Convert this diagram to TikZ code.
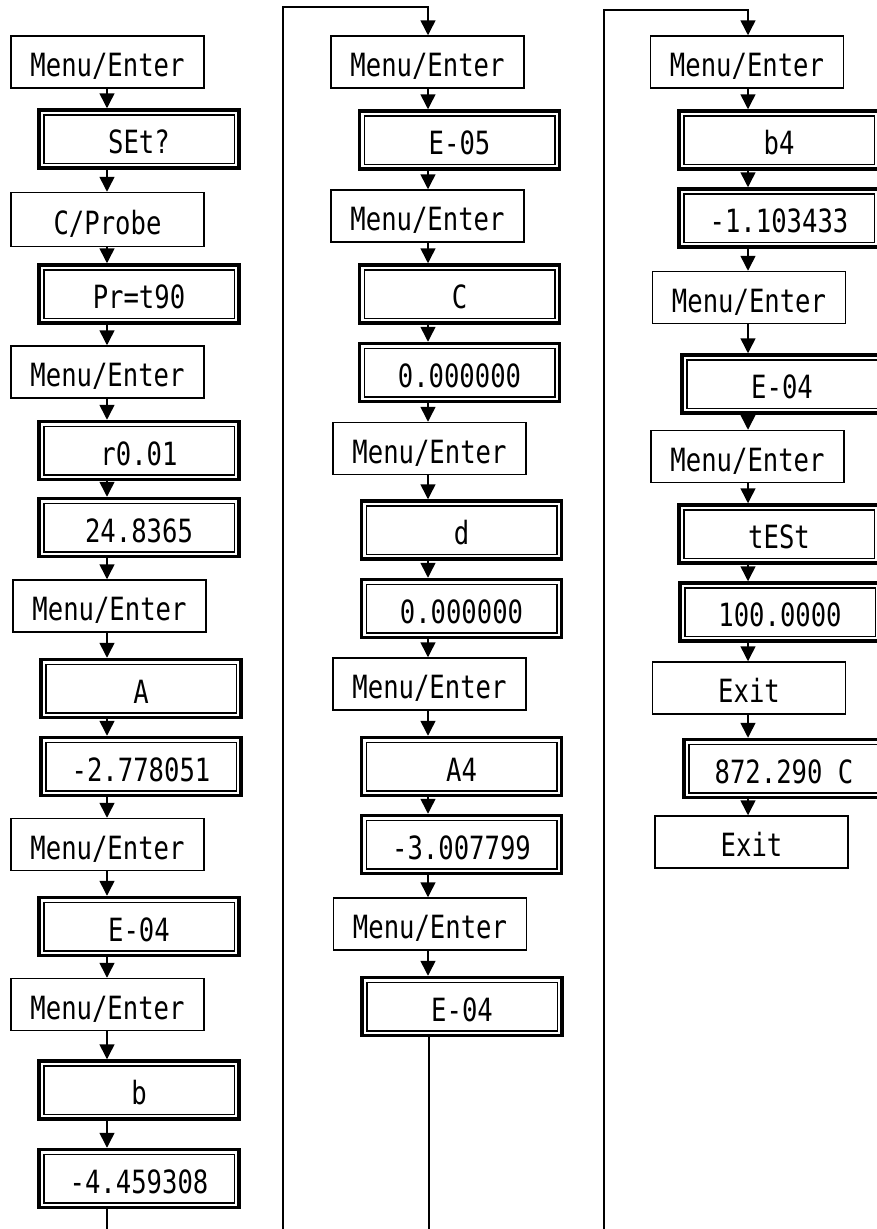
\documentclass[tikz,border=0pt]{standalone}
\usepackage{fontspec}
\usetikzlibrary{arrows.meta}
\newfontfamily\dispfont{DejaVu Sans Mono}[FakeStretch=0.8]

\begin{document}
\begin{tikzpicture}[
		x=1pt, y=-1pt,
		>={Triangle[length=15pt,width=15pt]},
		keybox/.style={
			draw,
			line width=1.5pt,
			minimum width=193pt,
			minimum height=52pt,
			inner sep=0pt,
			text height=29pt,
			text depth=0pt,
			font={\dispfont\fontsize{32}{38}\selectfont}
		},
		readout/.style={
			keybox,
			line width=3.5pt,
			minimum width=200pt,
			minimum height=58pt
		},
		flow/.style={->,line width=1.5pt},
		wire/.style={line width=1.5pt}
		]
		
		\useasboundingbox (0,0) rectangle (877,1229);
		
		%--------------------------------------------------
		% Column guides
		%--------------------------------------------------
		
		\coordinate (k1) at (107,0);
		\coordinate (k2) at (428,0);
		\coordinate (k3) at (748,0);
		
		%--------------------------------------------------
		% Column 1
		%--------------------------------------------------
		
		\node[keybox]  (c1a) at (107.5,62)   {Menu/Enter};
		\node[readout] (c1b) at (139,139)    {SEt?};
		\node[keybox,minimum height=54pt] (c1c) at (107.5,219.5) {C/Probe};
		\node[readout] (c1d) at (139,294)    {Pr=t90};
		\node[keybox]  (c1e) at (107.5,372)  {Menu/Enter};
		\node[readout] (c1f) at (139,450.5)  {r0.01};
		\node[readout] (c1g) at (139,527.5)  {24.8365};
		\node[keybox]  (c1h) at (109.5,606)  {Menu/Enter};
		\node[readout] (c1i) at (141,688.5)  {A};
		\node[readout] (c1j) at (141,766.5)  {-2.778051};
		\node[keybox]  (c1k) at (107.5,844.5) {Menu/Enter};
		\node[readout] (c1l) at (139,926.5)  {E-04};
		\node[keybox]  (c1m) at (107.5,1004.5) {Menu/Enter};
		\node[readout] (c1n) at (139,1090)   {b};
		\node[readout] (c1o) at (139,1178.5) {-4.459308};
		
		%--------------------------------------------------
		% Column 2
		%--------------------------------------------------
		
		\node[keybox]  (c2a) at (427.5,62)   {Menu/Enter};
		\node[readout] (c2b) at (459.5,140)  {E-05};
		\node[keybox]  (c2c) at (427.5,216)  {Menu/Enter};
		\node[readout] (c2d) at (459.5,294)  {C};
		\node[readout] (c2e) at (459.5,372.5) {0.000000};
		\node[keybox]  (c2f) at (429.5,448.5) {Menu/Enter};
		\node[readout] (c2g) at (461.5,530)  {d};
		\node[readout] (c2h) at (461.5,608.5) {0.000000};
		\node[keybox]  (c2i) at (429.5,684)  {Menu/Enter};
		\node[readout] (c2j) at (461.5,766.5) {A4};
		\node[readout] (c2k) at (461.5,844.5) {-3.007799};
		\node[keybox]  (c2l) at (430,924)    {Menu/Enter};
		\node[readout] (c2m) at (462,1006.5) {E-04};
		
		%--------------------------------------------------
		% Column 3
		%--------------------------------------------------
		
		\node[keybox]  (c3a) at (747,62)     {Menu/Enter};
		\node[readout] (c3b) at (779,140)    {b4};
		\node[readout] (c3c) at (779,218)    {-1.103433};
		\node[keybox]  (c3d) at (749,297.5)  {Menu/Enter};
		\node[readout] (c3e) at (782,384)    {E-04};
		\node[keybox]  (c3f) at (747.5,456.5) {Menu/Enter};
		\node[readout] (c3g) at (779,534)    {tESt};
		\node[readout] (c3h) at (780,612)    {100.0000};
		\node[keybox]  (c3i) at (749,688)    {Exit};
		\node[readout] (c3j) at (784,768.5)  {872.290 C};
		\node[keybox]  (c3k) at (751.5,842)  {Exit};
		
		%--------------------------------------------------
		% Inner frames of the readouts
		%--------------------------------------------------
		
		\foreach \n in {c1b,c1d,c1f,c1g,c1i,c1j,c1l,c1n,c1o,
			c2b,c2d,c2e,c2g,c2h,c2j,c2k,c2m,
			c3b,c3c,c3e,c3g,c3h,c3j}
		\draw[line width=1.5pt]
		([shift={(6.5pt,-6.5pt)}]\n.north west) rectangle
		([shift={(-6.5pt,6.5pt)}]\n.south east);
		
		%--------------------------------------------------
		% Forward flow
		%--------------------------------------------------
		
		\foreach \a/\b in {c1a/c1b,c1b/c1c,c1c/c1d,c1d/c1e,c1e/c1f,c1f/c1g,
			c1g/c1h,c1h/c1i,c1i/c1j,c1j/c1k,c1k/c1l,c1l/c1m,c1m/c1n,c1n/c1o}
		\draw[flow] (k1 |- \a.south) -- (k1 |- \b.north);
		
		\foreach \a/\b in {c2a/c2b,c2b/c2c,c2c/c2d,c2d/c2e,c2e/c2f,c2f/c2g,
			c2g/c2h,c2h/c2i,c2i/c2j,c2j/c2k,c2k/c2l,c2l/c2m}
		\draw[flow] (k2 |- \a.south) -- (k2 |- \b.north);
		
		\foreach \a/\b in {c3a/c3b,c3b/c3c,c3c/c3d,c3d/c3e,c3e/c3f,c3f/c3g,
			c3g/c3h,c3h/c3i,c3i/c3j,c3j/c3k}
		\draw[flow] (k3 |- \a.south) -- (k3 |- \b.north);
		
		%--------------------------------------------------
		% Continuation between columns
		%--------------------------------------------------
		
		\coordinate (out1) at (107,1240);
		\coordinate (in2)  at (283,1240);
		\coordinate (top2) at (283,7);
		\coordinate (out2) at (429,1240);
		\coordinate (in3)  at (604,1240);
		\coordinate (top3) at (604,10);
		
		\draw[wire] (k1 |- c1o.south) -- (out1);
		\draw[flow] (in2) -- (top2) -| (k2 |- c2a.north);
		\draw[wire] (c2m.south -| out2) -- (out2);
		\draw[flow] (in3) -- (top3) -| (k3 |- c3a.north);
		
	\end{tikzpicture}
\end{document}
